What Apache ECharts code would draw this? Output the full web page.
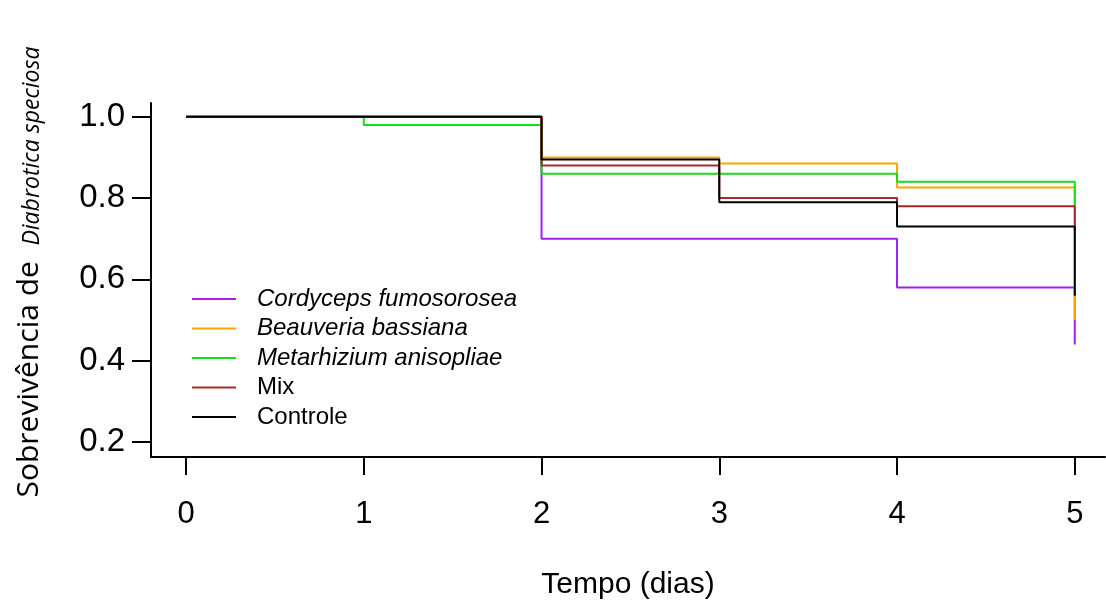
<!DOCTYPE html>
<html>
<head>
<meta charset="utf-8">
<script src="https://cdn.jsdelivr.net/npm/echarts@6/dist/echarts.min.js"></script>
<style>
  html, body { margin: 0; padding: 0; background: #fff; }
  #container { width: 1106px; height: 605px; }
</style>
</head>
<body>
<div id="container"></div>
<script>
// tempo (dias) e sobrevivência estimada por tratamento
const tempos = [0, 1, 2, 3, 4, 5];
const cordyceps = [1, 1, 0.70, 0.70, 0.58, 0.44];
const beauveria = [1, 1, 0.90, 0.885, 0.826, 0.50];
const metarhizium = [1, 0.98, 0.86, 0.86, 0.84, 0.78];
const mix = [1, 1, 0.88, 0.80, 0.78, 0.72];
const controle = [1, 1, 0.895, 0.79, 0.73, 0.56];

const xTicks = [0, 1, 2, 3, 4, 5];
const yTicks = [0.2, 0.4, 0.6, 0.8, 1.0];

const nomes = ['Cordyceps fumosorosea', 'Beauveria bassiana', 'Metarhizium anisopliae', 'Mix', 'Controle'];
const italicos = ['Cordyceps fumosorosea', 'Beauveria bassiana', 'Metarhizium anisopliae'];
const cores = ['#a020f0', '#ffa500', '#11e011', '#a52a2a', '#000000'];
const valores = [cordyceps, beauveria, metarhizium, mix, controle];

let dom = document.getElementById('container');
let myChart = echarts.init(dom);

let series = nomes.map(function (nome, i) {
    return {
        name: nome,
        type: 'line',
        step: 'end',
        symbol: 'none',
        animation: false,
        lineStyle: { color: cores[i], width: 2 },
        itemStyle: { color: cores[i] },
        data: tempos.map(function (t, j) { return [t, valores[i][j]]; })
    };
});

let option = {
    backgroundColor: '#fff',
    animation: false,
    grid: { left: 151, top: 103, right: 1, bottom: 146 },
    legend: {
        orient: 'vertical',
        left: 187,
        top: 282,
        icon: 'rect',
        itemWidth: 44,
        itemHeight: 2,
        itemGap: 5.5,
        data: nomes,
        formatter: function (name) {
            return italicos.indexOf(name) >= 0 ? '{i|' + name + '}' : '{n|' + name + '}';
        },
        textStyle: {
            rich: {
                i: { fontFamily: 'Liberation Sans', fontStyle: 'italic', fontSize: 24, color: '#000', padding: [0, 0, 0, 16] },
                n: { fontFamily: 'Liberation Sans', fontSize: 24, color: '#000', padding: [0, 0, 0, 16] }
            }
        }
    },
    xAxis: {
        type: 'value',
        min: -0.197,
        max: 5.17,
        name: 'Tempo (dias)',
        nameLocation: 'middle',
        nameGap: 113,
        nameTextStyle: { fontFamily: 'Liberation Sans', fontSize: 30, color: '#000' },
        axisLine: { show: true, onZero: false, lineStyle: { color: '#000', width: 2 } },
        axisTick: { show: true, customValues: xTicks, length: 18, lineStyle: { color: '#000', width: 2 } },
        axisLabel: { customValues: xTicks, margin: 42, fontFamily: 'Liberation Sans', fontSize: 31, color: '#000' },
        splitLine: { show: false }
    },
    yAxis: {
        type: 'value',
        min: 0.163,
        max: 1.034,
        axisLine: { show: true, onZero: false, lineStyle: { color: '#000', width: 2 } },
        axisTick: { show: true, customValues: yTicks, length: 19, lineStyle: { color: '#000', width: 2 } },
        axisLabel: {
            customValues: yTicks,
            margin: 26,
            fontFamily: 'Liberation Sans',
            fontSize: 33,
            color: '#000',
            formatter: function (v) { return v.toFixed(1); }
        },
        splitLine: { show: false }
    },
    graphic: [
        {
            type: 'text',
            x: 29,
            y: 272,
            rotation: Math.PI / 2,
            style: {
                text: '{n|Sobrevivência de  }{i|Diabrotica speciosa}',
                align: 'center',
                verticalAlign: 'middle',
                rich: {
                    n: { fontFamily: 'Open Sans', fontSize: 30, fill: '#000', verticalAlign: 'bottom' },
                    i: { fontFamily: 'Open Sans', fontStyle: 'italic', fontSize: 23, fill: '#000', verticalAlign: 'bottom' }
                }
            }
        }
    ],
    series: series
};
myChart.setOption(option);
</script>
</body>
</html>
